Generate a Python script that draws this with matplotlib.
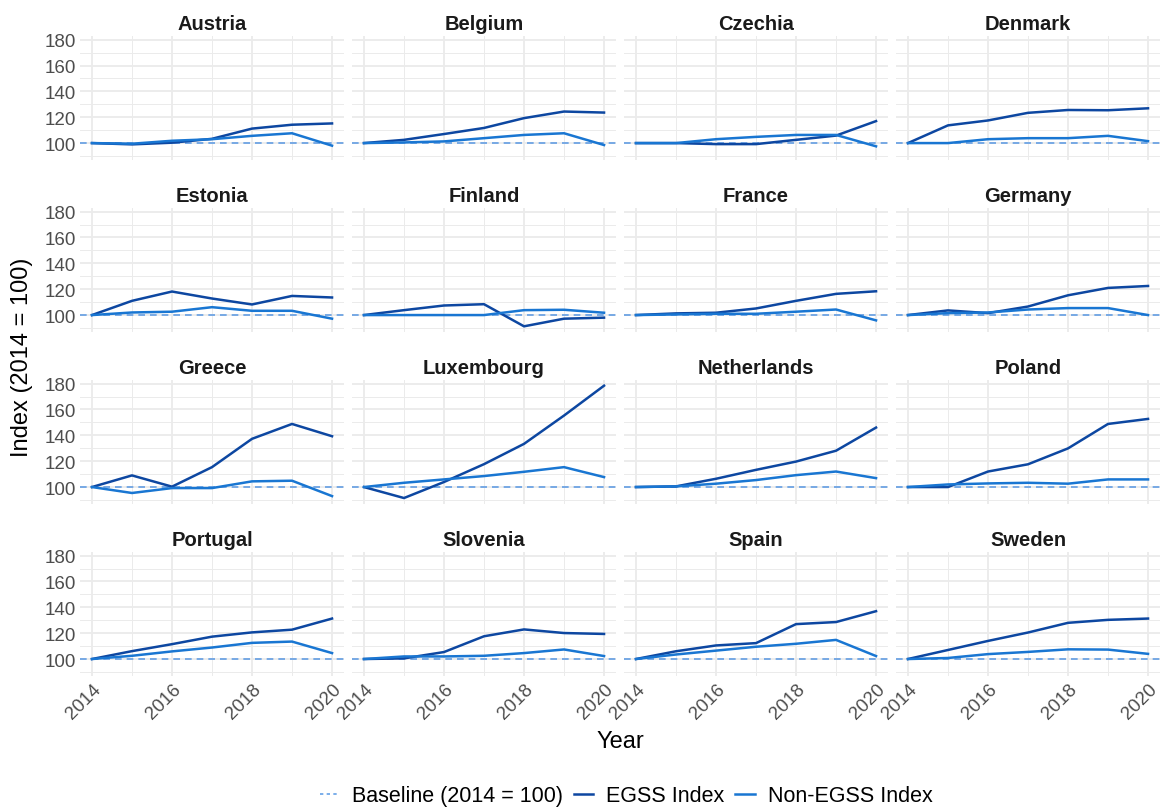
import matplotlib
matplotlib.use("Agg")
import matplotlib.pyplot as plt
from matplotlib.lines import Line2D
from matplotlib.ticker import MultipleLocator

plt.rcParams['font.family'] = ['Liberation Sans', 'DejaVu Sans']

years = [2014, 2015, 2016, 2017, 2018, 2019, 2020]
countries = ['Austria', 'Belgium', 'Czechia', 'Denmark',
             'Estonia', 'Finland', 'France', 'Germany',
             'Greece', 'Luxembourg', 'Netherlands', 'Poland',
             'Portugal', 'Slovenia', 'Spain', 'Sweden']

egss_index = [
    [100, 99.0, 100.3, 103.3, 111.2, 114.2, 115.2],   # Austria
    [100, 102.5, 107.0, 111.7, 119.3, 124.4, 123.6],  # Belgium
    [100, 100.0, 99.2, 99.2, 102.5, 105.8, 117.0],    # Czechia
    [100, 113.7, 117.5, 123.4, 125.6, 125.4, 126.9],  # Denmark
    [100, 111.0, 118.2, 112.8, 108.2, 114.8, 113.6],  # Estonia
    [100, 103.8, 107.4, 108.4, 91.3, 97.2, 98.0],     # Finland
    [100, 101.3, 101.8, 105.1, 111.0, 116.4, 118.4],  # France
    [100, 103.6, 101.5, 106.6, 115.3, 121.0, 122.5],  # Germany
    [100, 109.0, 100.3, 115.4, 137.3, 148.8, 139.3],  # Greece
    [100, 91.5, 103.9, 117.7, 133.4, 155.3, 178.4],   # Luxembourg
    [100, 100.5, 106.4, 113.3, 119.7, 128.1, 146.0],  # Netherlands
    [100, 100.0, 112.0, 117.6, 129.9, 148.8, 152.7],  # Poland
    [100, 106.1, 111.5, 117.3, 120.6, 122.7, 131.3],  # Portugal
    [100, 100.5, 105.4, 117.6, 122.9, 120.1, 119.4],  # Slovenia
    [100, 106.0, 110.5, 112.3, 127.0, 128.6, 137.0],  # Spain
    [100, 107.0, 114.0, 120.5, 128.0, 130.3, 131.3],  # Sweden
]

non_egss_index = [
    [100, 99.5, 101.8, 103.0, 105.6, 107.6, 98.0],    # Austria
    [100, 100.5, 101.3, 103.8, 106.3, 107.6, 98.5],   # Belgium
    [100, 100.0, 103.0, 104.8, 106.3, 106.3, 97.5],   # Czechia
    [100, 100.0, 103.0, 103.8, 103.8, 105.6, 101.5], # Denmark
    [100, 102.0, 102.6, 106.1, 103.3, 103.3, 97.2],   # Estonia
    [100, 100.0, 100.0, 100.0, 103.8, 104.1, 101.8], # Finland
    [100, 100.5, 101.0, 101.0, 102.6, 104.3, 95.9],   # France
    [100, 101.5, 102.0, 104.3, 105.4, 105.4, 100.0], # Germany
    [100, 95.4, 99.2, 99.2, 104.4, 104.9, 93.0],      # Greece
    [100, 103.3, 105.9, 108.5, 111.8, 115.4, 107.7], # Luxembourg
    [100, 100.5, 102.6, 105.4, 109.2, 112.0, 106.9], # Netherlands
    [100, 102.0, 102.8, 103.3, 102.6, 105.9, 105.9], # Poland
    [100, 102.5, 105.9, 108.9, 112.5, 113.5, 104.6], # Portugal
    [100, 102.0, 102.0, 102.5, 104.6, 107.4, 102.3], # Slovenia
    [100, 103.5, 106.5, 109.5, 111.8, 114.8, 102.3], # Spain
    [100, 100.8, 103.8, 105.5, 107.5, 107.3, 104.0], # Sweden
]

baseline = 100

egss_color = '#0D47A1'
non_color = '#1976D2'
base_color = '#4A90E2'
grid_color = '#EBEBEB'
tick_color = '#4D4D4D'

fig, axes = plt.subplots(4, 4, figsize=(11.64, 8.12), dpi=100,
                         sharex=True, sharey=True)
fig.subplots_adjust(left=0.0687, right=0.9966, top=0.9544, bottom=0.1663,
                    wspace=0.03, hspace=0.387)

for i, ax in enumerate(axes.flat):
    name = countries[i]
    ax.axhline(baseline, color=base_color, lw=1.2, ls=(0, (4, 3)), alpha=0.85, zorder=2)
    ax.plot(years, egss_index[i], color=egss_color, lw=1.8, zorder=3)
    ax.plot(years, non_egss_index[i], color=non_color, lw=1.8, zorder=4)
    ax.set_title(name, fontsize=14.5, fontweight='bold', color='#1A1A1A', pad=5)

    ax.set_xlim(2013.7, 2020.3)
    ax.set_ylim(86.9, 182.8)
    ax.xaxis.set_major_locator(MultipleLocator(2))
    ax.xaxis.set_minor_locator(MultipleLocator(1))
    ax.yaxis.set_major_locator(MultipleLocator(20))
    ax.yaxis.set_minor_locator(MultipleLocator(10))
    ax.set_yticks([100, 120, 140, 160, 180])
    ax.grid(True, which='major', color=grid_color, lw=1.3, zorder=0)
    ax.grid(True, which='minor', color=grid_color, lw=0.7, zorder=0)
    for s in ax.spines.values():
        s.set_visible(False)
    ax.tick_params(which='both', length=0, labelsize=13.5, labelcolor=tick_color, pad=3)
    ax.set_axisbelow(True)

for ax in axes[-1, :]:
    for lab in ax.get_xticklabels():
        lab.set_rotation(45)
        lab.set_ha('right')
        lab.set_rotation_mode('anchor')

fig.text(0.533, 1 - 742 / 812, 'Year', ha='center', va='center', fontsize=17)
fig.text(0.019, 0.56, 'Index (2014 = 100)', rotation=90, ha='center', va='center',
         fontsize=17)

handles = [
    Line2D([], [], color=base_color, lw=1.2, ls=(0, (2, 2)), alpha=0.85),
    Line2D([], [], color=egss_color, lw=1.8),
    Line2D([], [], color=non_color, lw=1.8),
]
labels = ['Baseline (2014 = 100)', 'EGSS Index', 'Non-EGSS Index']
fig.legend(handles, labels, loc='center', bbox_to_anchor=(0.538, 1 - 797 / 812),
           ncol=3, frameon=False, fontsize=15.5, handlelength=0.9,
           handletextpad=0.6, columnspacing=0.5)

fig.savefig('out.png', dpi=100)
